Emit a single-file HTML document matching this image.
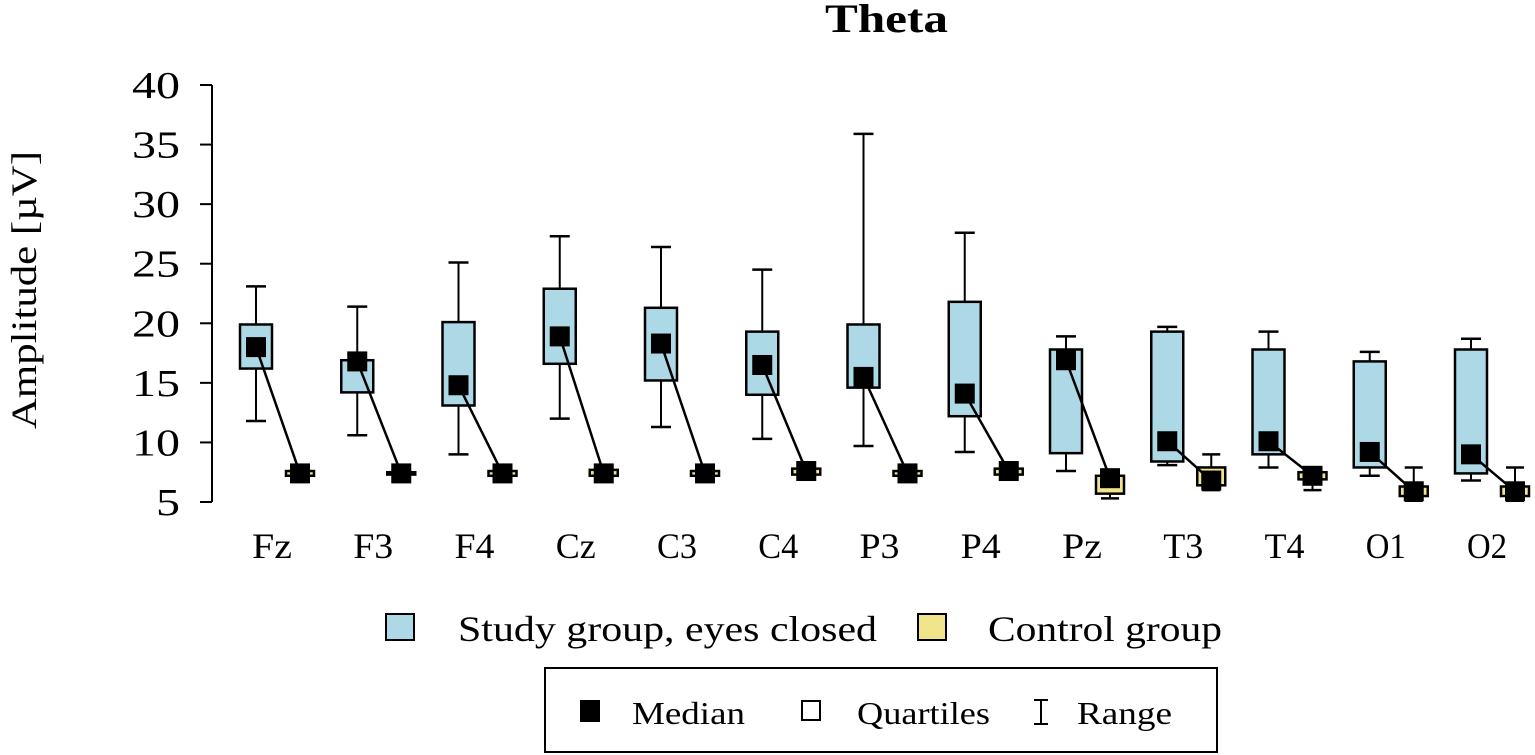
<!DOCTYPE html>
<html><head><meta charset="utf-8"><style>
body{margin:0;background:#fff;}
svg{display:block;font-family:"Liberation Serif",serif;}
</style></head><body>
<svg id="chart" width="1535" height="755" viewBox="0 0 1535 755">
<text x="825" y="32" font-size="40" font-weight="bold" textLength="123" lengthAdjust="spacingAndGlyphs">Theta</text>
<text transform="translate(36,290) rotate(-90)" font-size="36" text-anchor="middle" textLength="278" lengthAdjust="spacingAndGlyphs">Amplitude [µV]</text>
<g id="yaxis"></g>
<g id="marks"></g>
<g id="xlabels"></g>
<g>
<rect x="386" y="614" width="28" height="26" fill="#add8e6" stroke="#000" stroke-width="2"/>
<text x="458" y="641" font-size="36" textLength="419" lengthAdjust="spacingAndGlyphs">Study group, eyes closed</text>
<rect x="918" y="614" width="28" height="26" fill="#f2e48a" stroke="#000" stroke-width="2"/>
<text x="988" y="641" font-size="36" textLength="234" lengthAdjust="spacingAndGlyphs">Control group</text>
</g>
<g>
<rect x="545" y="668" width="672" height="84" fill="#fff" stroke="#000" stroke-width="2"/>
<rect x="580" y="700" width="20" height="22" fill="#000"/>
<text x="632" y="724" font-size="32" textLength="113" lengthAdjust="spacingAndGlyphs">Median</text>
<rect x="802" y="701" width="18" height="19" fill="#fff" stroke="#000" stroke-width="2"/>
<text x="857" y="724" font-size="32" textLength="133" lengthAdjust="spacingAndGlyphs">Quartiles</text>
<path d="M1034 700 H1048 M1041 700 V724 M1034 724 H1048" stroke="#000" stroke-width="2" fill="none"/>
<text x="1077" y="724" font-size="32" textLength="95" lengthAdjust="spacingAndGlyphs">Range</text>
</g>
</svg>
<script>
const categories=["Fz","F3","F4","Cz","C3","C4","P3","P4","Pz","T3","T4","O1","O2"];
const studyMin=[11.8,10.6,9.0,12.0,11.3,10.3,9.7,9.2,7.6,8.1,7.9,7.2,6.8];
const studyQ1=[16.2,14.2,13.1,16.6,15.2,14.0,14.6,12.2,9.1,8.4,9.0,7.9,7.4];
const studyMed=[18.0,16.8,14.8,18.9,18.3,16.5,15.5,14.1,16.9,10.1,10.1,9.2,9.0];
const studyQ3=[19.9,16.9,20.1,22.9,21.3,19.3,19.9,21.8,17.8,19.3,17.8,16.8,17.8];
const studyMax=[23.1,21.4,25.1,27.3,26.4,24.5,35.9,27.6,18.9,19.7,19.3,17.6,18.7];
const ctrlMin=[7.1,7.2,7.1,7.1,7.1,7.2,7.1,7.2,5.3,6.0,6.0,5.1,5.1];
const ctrlQ1=[7.2,7.3,7.2,7.2,7.2,7.3,7.2,7.3,5.7,6.4,6.9,5.5,5.5];
const ctrlMed=[7.4,7.4,7.4,7.4,7.4,7.6,7.4,7.6,7.0,6.8,7.2,5.9,5.9];
const ctrlQ3=[7.6,7.5,7.6,7.7,7.6,7.8,7.6,7.8,7.2,7.9,7.5,6.3,6.3];
const ctrlMax=[7.7,7.6,7.7,7.8,7.7,7.9,7.7,7.9,7.3,9.0,7.6,7.9,7.9];
const yTicks=[5,10,15,20,25,30,35,40];
const NS="http://www.w3.org/2000/svg";
function y(v){return 502-(v-5)*(417/35);}
function xc(i){return 272+i*101.25;}
function mk(tag,attrs,parent){const e=document.createElementNS(NS,tag);for(const k in attrs)e.setAttribute(k,attrs[k]);parent.appendChild(e);return e;}
const ya=document.getElementById('yaxis'),mg=document.getElementById('marks'),xl=document.getElementById('xlabels');
mk('line',{x1:212,x2:212,y1:y(40),y2:y(5),stroke:'#000','stroke-width':2},ya);
yTicks.forEach(t=>{
  mk('line',{x1:200,x2:212,y1:y(t),y2:y(t),stroke:'#000','stroke-width':2},ya);
  const n=String(t).length;
  const tx=mk('text',{x:180-n*24,y:y(t)+13,'font-size':38,textLength:n*24,lengthAdjust:'spacingAndGlyphs'},ya);
  tx.textContent=t;
  
  
});
function box(cx,w,mn,q1,md,q3,mx,fill,g,cw){
  mk('line',{x1:cx,x2:cx,y1:y(mx),y2:y(mn),stroke:'#000','stroke-width':2},g);
  mk('line',{x1:cx-cw,x2:cx+cw,y1:y(mx),y2:y(mx),stroke:'#000','stroke-width':2.5},g);
  mk('line',{x1:cx-cw,x2:cx+cw,y1:y(mn),y2:y(mn),stroke:'#000','stroke-width':2.5},g);
  const r=mk('rect',{x:cx-w/2,y:y(q3),width:w,height:Math.max(y(q1)-y(q3),2),fill:fill,stroke:'#000','stroke-width':2.5},g);
  
  
}
categories.forEach((c,i)=>{
  const g=mk('g',{},mg);
  
  
  const sx=xc(i)-16, cx2=xc(i)+28;
  box(sx,32,studyMin[i],studyQ1[i],studyMed[i],studyQ3[i],studyMax[i],'#add8e6',g,10);
  box(cx2,28,ctrlMin[i],ctrlQ1[i],ctrlMed[i],ctrlQ3[i],ctrlMax[i],'#f2e48a',g,9);
  const l=mk('line',{x1:sx,y1:y(studyMed[i]),x2:cx2,y2:y(ctrlMed[i]),stroke:'#000','stroke-width':2.5},g);
  
  
  const m1=mk('rect',{x:sx-10,y:y(studyMed[i])-10,width:20,height:20,fill:'#000'},g);
  
  
  const m2=mk('rect',{x:cx2-10,y:y(ctrlMed[i])-10,width:20,height:20,fill:'#000'},g);
  
  
  const t=mk('text',{x:xc(i)-20,y:558,'font-size':36,textLength:40,lengthAdjust:'spacingAndGlyphs'},xl);
  t.textContent=c;
  
  
});
</script>
</body></html>
